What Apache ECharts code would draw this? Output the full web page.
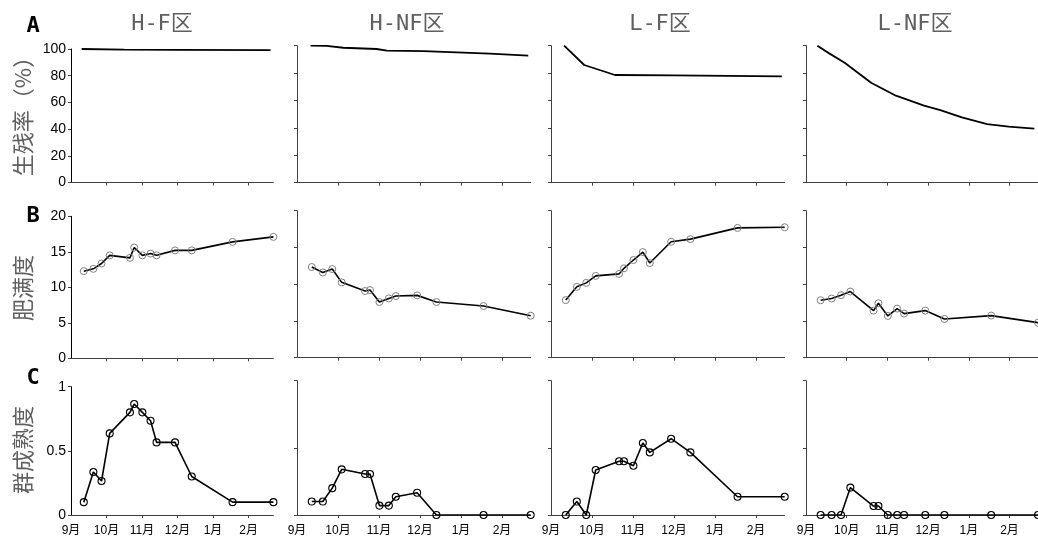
<!DOCTYPE html>
<html><head><meta charset="utf-8">
<script src="https://cdn.jsdelivr.net/npm/echarts@6/dist/echarts.min.js"></script>
<style>html,body{margin:0;padding:0;background:#fff}#c{width:1038px;height:540px}</style>
</head><body><div id="c"></div>
<script>
// ---------- data ----------
const zones = ['H-F区', 'H-NF区', 'L-F区', 'L-NF区'];
const panelLetters = ['A', 'B', 'C'];
const rowNames = ['生残率（%）', '肥满度', '群成熟度'];
const monthLabels = ['9月', '10月', '11月', '12月', '1月', '2月'];
// sampling dates, in months after 1 Sep
const sampleMonths = [0.36, 0.63, 0.86, 1.09, 1.66, 1.78, 2.01, 2.24, 2.41, 2.93, 3.40, 4.55, 5.70];

// A: survival (%) — own time points per zone
const survHF_x  = [0.30, 1.50, 3.00, 5.62];
const survHF    = [100, 99.5, 99.3, 99.2];
const survHNF_x = [0.33, 0.72, 1.13, 1.94, 2.19, 3.08, 3.90, 4.70, 5.64];
const survHNF   = [100, 99.8, 98.5, 97.6, 96.4, 96.1, 95.1, 94.2, 92.7];
const survLF_x  = [0.32, 0.81, 1.56, 3.00, 5.63];
const survLF    = [100, 85.9, 78.6, 78.3, 77.6];
const survLNF_x = [0.28, 0.57, 0.95, 1.60, 2.21, 2.90, 3.30, 3.83, 4.45, 4.98, 5.61];
const survLNF   = [100, 94.4, 87.6, 73.0, 63.5, 56.2, 53.0, 47.7, 42.8, 40.9, 39.4];

// B: condition factor
const condHF  = [12.27, 12.6, 13.35, 14.5, 14.15, 15.6, 14.5, 14.75, 14.5, 15.2, 15.2, 16.4, 17.1];
const condHNF = [12.34, 11.6, 12.06, 10.25, 9.07, 9.2, 7.57, 8.07, 8.39, 8.48, 7.57, 7.03, 5.71];
const condLF  = [7.84, 9.64, 10.18, 11.13, 11.4, 12.16, 13.29, 14.37, 12.88, 15.77, 16.13, 17.66, 17.75];
const condLNF = [7.82, 8.05, 8.5, 9.0, 6.41, 7.41, 5.68, 6.68, 6.0, 6.41, 5.27, 5.73, 4.77];

// C: group maturity
const matHF  = [0.10, 0.335, 0.265, 0.636, 0.80, 0.865, 0.80, 0.735, 0.566, 0.566, 0.30, 0.10, 0.10];
const matHNF = [0.10, 0.10, 0.20, 0.34, 0.305, 0.305, 0.07, 0.07, 0.136, 0.166, 0, 0, 0];
const matLF  = [0, 0.10, 0, 0.335, 0.40, 0.40, 0.367, 0.536, 0.466, 0.568, 0.466, 0.136, 0.136];
const matLNF = [0, 0, 0, 0.204, 0.067, 0.067, 0, 0, 0, 0, 0, 0, 0];

const yTicksA = [0, 20, 40, 60, 80, 100];
const yTicksB = [0, 5, 10, 15, 20];
const yTicksC = [0, 0.5, 1];

// ---------- layout ----------
const colLeft = [71, 297, 551, 806];
const colWidth = [202.4, 233.7, 233.7, 233.7];
const rowTop = [[49, 45.7, 45.7, 45.7], [216.3, 210.7, 210.7, 210.7], [386.7, 380.7, 380.7, 380.7]];
const rowHeight = [[133.5, 137, 137, 137], [142, 147, 147, 147], [128.3, 134.3, 134.3, 134.3]];
const xMax = 5.70;

const survX = [survHF_x, survHNF_x, survLF_x, survLNF_x];
const survY = [survHF, survHNF, survLF, survLNF];
const condY = [condHF, condHNF, condLF, condLNF];
const matY = [matHF, matHNF, matLF, matLNF];
const yTicks = [yTicksA, yTicksB, yTicksC];

const zip = (xs, ys) => xs.map((x, i) => [x, ys[i]]);
const axisColor = '#404040';
const grid = [], xAxis = [], yAxis = [], series = [];

for (let r = 0; r < 3; r++) {
  for (let c = 0; c < 4; c++) {
    const idx = r * 4 + c;
    grid.push({ left: colLeft[c], top: rowTop[r][c], width: colWidth[c], height: rowHeight[r][c] });
    xAxis.push({
      type: 'value', gridIndex: idx, min: 0, max: xMax,
      axisLine: { show: true, onZero: false, lineStyle: { color: axisColor, width: 1 } },
      axisTick: { show: true, length: 3, lineStyle: { color: axisColor }, customValues: [1, 2, 3, 4, 5] },
      axisLabel: {
        show: r === 2, customValues: [0, 1, 2, 3, 4, 5], margin: 10,
        formatter: v => monthLabels[Math.round(v)] || '',
        color: '#000', fontSize: 12, fontFamily: "'Liberation Sans','Noto Sans CJK SC'"
      },
      splitLine: { show: false }
    });
    const t = yTicks[r];
    yAxis.push({
      type: 'value', gridIndex: idx, min: t[0], max: t[t.length - 1], interval: t[1] - t[0],
      axisLine: { show: true, lineStyle: { color: c === 0 ? '#000' : axisColor, width: 1 } },
      axisTick: { show: true, length: 3, lineStyle: { color: axisColor } },
      axisLabel: { show: c === 0, margin: 5, color: '#000', fontSize: 14, fontFamily: "'Liberation Sans'" },
      splitLine: { show: false }
    });
    let s;
    if (r === 0) {
      s = { data: zip(survX[c], survY[c]), symbol: 'none', showSymbol: false,
            lineStyle: { color: '#000', width: 1.8 } };
    } else {
      const ys = r === 1 ? condY[c] : matY[c];
      s = { data: zip(sampleMonths, ys), symbol: 'circle', symbolSize: 7,
            itemStyle: { color: 'rgba(0,0,0,0)', borderColor: r === 1 ? '#808080' : '#000', borderWidth: r === 1 ? 1 : 1.1 },
            lineStyle: { color: '#000', width: 1.6 } };
    }
    series.push(Object.assign({ type: 'line', xAxisIndex: idx, yAxisIndex: idx, silent: true, animation: false }, s));
  }
}

const titleX = [162, 407, 660, 915];
const letterY = [26, 216, 378];
const nameY = [111, 288, 450];
const graphic = [];
zones.forEach((z, i) => graphic.push({
  type: 'text', x: titleX[i], y: 24,
  style: { text: z, fill: '#606060', font: "22px 'DejaVu Sans Mono','Noto Sans CJK SC'", textAlign: 'center', textVerticalAlign: 'middle', align: 'center', verticalAlign: 'middle' }
}));
panelLetters.forEach((L, i) => graphic.push({
  type: 'text', x: 33, y: letterY[i],
  style: { text: L, fill: '#000', font: "bold 22px 'DejaVu Sans Mono'", textAlign: 'center', textVerticalAlign: 'middle', align: 'center', verticalAlign: 'middle' }
}));
rowNames.forEach((n, i) => graphic.push({
  type: 'text', x: 23, y: nameY[i], rotation: Math.PI / 2,
  style: { text: n, fill: '#606060', font: "22px 'Noto Sans CJK SC'", textAlign: 'center', textVerticalAlign: 'middle', align: 'center', verticalAlign: 'middle' }
}));

const chart = echarts.init(document.getElementById('c'));
chart.setOption({ animation: false, backgroundColor: '#fff', grid, xAxis, yAxis, series, graphic });
</script></body></html>
